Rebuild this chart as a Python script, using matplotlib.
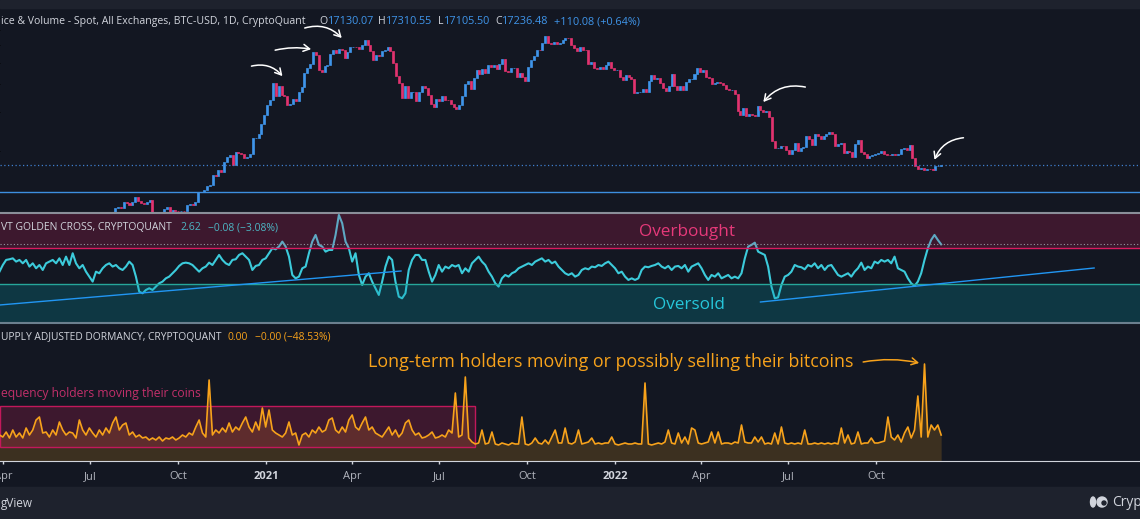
import numpy as np
import pandas as pd
import matplotlib
matplotlib.use("Agg")
import matplotlib.pyplot as plt
import matplotlib.dates as mdates
from matplotlib.patches import Rectangle, Ellipse
from matplotlib.lines import Line2D

# BTC-USD close, one value every 3 days from 2020-07-21 to 2022-12-08
price_start = "2020-07-21"
btc_close = [
    9390, 9540, 11000, 11100, 11050, 11750, 11650, 11400, 11780, 12300,
    11860, 11650, 11480, 11710, 11920, 10500, 10370, 10340, 10330, 10950,
    11090, 10530, 10740, 10710, 10620, 10680, 10670, 11380, 11430, 11330,
    11750, 12980, 13030, 13280, 13800, 14000, 15600, 15300, 16300, 15980,
    17800, 18680, 19160, 17150, 19700, 19450, 19370, 18550, 18810, 19270,
    22800, 22800, 23740, 26280, 28900,
    32200, 34000, 40600, 35500, 39200, 35800, 35500, 32100, 32500, 34300,
    33500, 36900, 38900, 44800, 47100, 49100, 55900, 54100, 46300, 45200,
    48400, 48900, 54900, 57200, 55600, 57600, 57300, 52800, 55800, 58800,
    59000, 58900, 58000, 60200, 63100, 60400, 56500, 51700, 54000, 53800,
    56600, 57000, 58800, 56700, 49700, 43500, 40600, 34700, 39300, 34600,
    36700, 36900, 33600, 36700, 39100, 38300, 35600, 32500, 31600, 34400,
    33500, 35300, 33900, 33800, 32700, 31500, 30800, 32100, 35400, 39900,
    41500, 38200, 42800, 46300, 44400, 47000, 44900, 48900, 47700, 49000,
    46900, 49300, 51800, 46100, 45200, 47100, 47300, 43000, 44900, 43200,
    41500, 47700, 51500, 53900, 57400, 57300, 61500, 65900, 61300, 60900,
    62200, 61000, 61400, 63300, 64900, 64400, 60100, 58100, 56300, 58900,
    57300, 57200, 49400, 50600, 47100, 46700, 47600, 46700, 48600, 50400,
    47500, 46300,
    46400, 43100, 41800, 43900, 43100, 42200, 36300, 36700, 37000, 37900,
    36900, 41500, 44100, 42400, 42600, 40500, 38300, 37300, 39100, 44400,
    39100, 37700, 39400, 37800, 41100, 42200, 42400, 44300, 47100, 45500,
    46400, 43200, 42800, 40100, 40500, 40800, 40500, 39500, 38100, 37700,
    37700, 36000, 30100, 28900, 31300, 28700, 29400, 29100, 28600, 31800,
    30500, 29900, 30200, 28400, 22100, 20500, 20600, 21100, 21000, 20100,
    19300, 20200, 21600, 19900, 20600, 20800, 23200, 22600, 21200, 23800,
    23300, 22600, 23200, 23900, 24400, 23900, 20900, 21500, 21600, 19600,
    20000, 19800, 18800, 21400, 22400, 19700, 19400, 18500, 18900, 19100,
    19400, 19600, 20000, 19400, 19200, 19100, 19300, 19200, 19300, 20300,
    20600, 20200, 21300, 18500, 17000, 16600, 16700, 16300, 16600, 16500,
    16400, 17000, 17100, 17200,
]
last_price = 17236.48
support_price = 13000

# NVT golden cross and supply adjusted dormancy, evenly spaced 2020-03-28 .. 2022-12-08
ind_start, ind_end = "2020-03-28", "2022-12-08"
nvt = [
    -0.29, 0.42, 0.96, 1.03, 1.13, 0.78, 0.96, 0.60, 0.96, 0.25,
    0.60, 0.07, 0.42, -0.11, 0.60, 0.78, 0.96, 0.60, 1.13, 0.42,
    1.31, 0.42, 1.67, 0.60, 0.07, 0.42, -0.29, -0.82, -1.35, -0.29,
    -0.46, 0.07, 0.42, 0.60, 0.25, 0.42, 0.07, -0.11, 0.25, 0.78,
    0.42, -0.82, -2.42, -2.59, -2.24, -2.06, -2.24, -1.88, -1.53, -1.35,
    -1.00, -0.82, -0.46, -0.11, 0.32, 0.60, 0.67, 0.60, 0.42, 0.07,
    -0.29, 0.07, 0.25, 0.67, 0.42, 0.96, 1.49, 0.96, 0.60, 0.42,
    0.96, 1.03, 1.49, 1.67, 1.31, 0.96, -0.11, 0.32, 0.42, 0.96,
    1.13, 1.67, 2.20, 2.09, 2.38, 2.91, 2.38, 1.31, -0.64, -1.00,
    -0.82, 0.07, 0.25, 1.67, 2.91, 3.62, 2.56, 2.38, 1.84, 2.02,
    2.02, 3.62, 5.75, 4.86, 2.91, 2.20, 0.78, 1.67, -0.64, -1.71,
    -0.82, -0.46, -1.35, -2.06,
    -2.77, -1.35, 0.25, 1.31, 0.96, -1.35, -2.95, -3.13, -2.59, -0.11,
    0.96, 1.49, 1.49, 0.96, 0.96, -0.29, -1.35, -0.64, 0.42, -0.29,
    0.25, 0.07, 0.42, 0.25, 0.42, -0.46, 0.07, -0.29, 0.60, 0.96,
    1.31, 0.78, 0.42, -0.29, -0.82, -1.53, -1.88, -1.00, -0.64, -0.82,
    -0.46, -0.29, 0.07, 0.25, 0.42, 0.60, 0.42, 0.78, 0.96, 1.13,
    0.78, 0.96, 0.60, 0.78, 0.25, -0.11, -0.46, -0.64, -0.46, -0.82,
    -0.64, -0.11, 0.07, -0.04, 0.25, 0.18, 0.42, 0.32, 0.60, 0.78,
    0.42, 0.07, -0.46, -0.29, -0.82, -1.17, -1.00, -1.17, -1.00, -0.11,
    0.25, 0.18, 0.32, 0.42, 0.60, 0.25, 0.07, 0.32, -0.11, 0.25,
    0.32, 0.07, 0.42, -0.29, 0.25, 0.42, 0.60, 0.07, -0.64, -1.17,
    -0.64, -0.82, -0.46, -1.00, -0.82, -0.64, -1.00, -0.82, -1.00, -0.46,
    1.13, 2.38, 2.56, 2.80,
    1.84, 1.67, 1.49, 0.25, -1.88, -3.13, -3.02, -1.71, -0.82, -0.64,
    -0.29, 0.42, 0.25, 0.18, -0.04, 0.42, 0.25, 0.60, 0.07, 0.42,
    -0.11, 0.32, 0.42, -0.11, -0.64, -0.82, -0.64, -0.46, -0.82, -0.29,
    0.07, 0.67, -0.11, 0.25, 0.07, 0.78, 0.60, 0.96, 0.78, 0.96,
    0.60, 1.31, 0.07, -0.11, -0.29, -1.00, -1.53, -1.81, -1.35, -0.46,
    0.96, 2.20, 3.09, 3.62, 3.09, 2.62,
]
overbought, oversold = 2.2, -1.6

dormancy = [
    2.6, 2.4, 2.9, 2.3, 3.1, 2.4, 2.8, 2.3, 3.3, 2.6,
    3.1, 4.1, 4.4, 2.8, 2.9, 2.4, 3.1, 2.6, 3.9, 3.1,
    2.6, 2.9, 2.8, 2.3, 4.1, 3.1, 2.6, 3.3, 2.8, 2.4,
    3.1, 2.6, 3.3, 2.8, 3.8, 4.4, 3.1, 3.6, 3.8, 2.6,
    2.9, 2.4, 2.6, 2.3, 2.4, 2.1, 2.3, 2.1, 2.4, 2.0,
    2.3, 2.2, 2.4, 2.1, 2.3, 2.6, 2.4, 2.8, 2.6, 3.4,
    4.1, 2.8, 2.4, 8.1, 2.6, 3.1, 2.8, 3.3, 2.9, 3.8,
    2.9, 3.4, 3.1, 3.8, 4.4, 3.4, 2.9, 3.9, 3.1, 5.3,
    3.4, 5.1, 3.1, 2.8, 2.6, 2.4, 2.8, 3.9, 2.6, 2.8,
    1.6, 2.6, 2.8, 2.4, 3.1, 2.8, 3.4, 2.9, 3.1, 4.1,
    4.3, 3.1, 2.8, 3.4, 2.9, 4.1, 4.6, 3.4, 3.1, 3.8,
    4.4, 3.1, 3.4, 2.8,
    2.6, 2.4, 2.9, 3.4, 2.6, 3.1, 2.4, 2.8, 3.8, 4.1,
    3.1, 2.6, 2.8, 2.3, 2.4, 2.6, 2.9, 2.3, 2.4, 2.6,
    2.4, 3.1, 2.8, 6.8, 2.4, 2.6, 8.4, 2.3, 1.9, 1.7,
    1.8, 3.1, 1.7, 1.8, 2.9, 1.7, 1.6, 1.8, 1.7, 1.6,
    1.8, 1.7, 1.7, 4.4, 1.7, 1.6, 1.8, 2.3, 1.8, 1.7,
    2.1, 1.7, 2.4, 3.1, 1.8, 1.8, 3.3, 1.8, 1.7, 1.9,
    3.1, 1.7, 1.8, 1.9, 2.3, 1.7, 1.8, 1.7, 1.8, 1.8,
    2.4, 1.7, 1.6, 1.7, 1.8, 1.7, 1.7, 1.8, 1.7, 1.7,
    7.8, 1.7, 1.6, 1.7, 1.8, 1.7, 1.9, 3.1, 1.8, 1.7,
    2.8, 1.8, 2.4, 1.7, 3.3, 3.1, 1.8, 1.7, 1.8, 1.9,
    2.9, 1.8, 2.9, 1.7, 1.8, 1.8, 1.7, 1.9, 1.8, 3.6,
    1.9, 1.8, 1.8, 2.4,
    1.9, 2.4, 1.7, 1.8, 1.7, 2.8, 1.7, 3.4, 1.8, 1.7,
    1.8, 1.7, 1.8, 1.7, 3.1, 1.7, 1.7, 1.8, 1.7, 1.8,
    1.7, 1.8, 1.7, 1.8, 1.7, 3.3, 1.8, 2.6, 1.7, 1.8,
    2.9, 1.7, 1.8, 1.8, 2.3, 1.8, 1.8, 1.9, 2.0, 4.4,
    2.4, 2.1, 2.6, 1.9, 2.8, 3.4, 2.3, 3.1, 6.5, 2.4,
    9.7, 2.4, 3.6, 3.1, 3.6, 2.6,
]
box_end, box_low, box_high = "2021-08-07", 1.4, 5.5

# trend lines drawn on the NVT pane: (date, value) pairs
trend_lines = [
    (("2020-03-28", -3.84), ("2021-05-22", -0.22)),
    (("2022-06-02", -3.52), ("2023-05-17", 0.10)),
]
# hand drawn arrows on the price pane: tip (date, price), tail offset px, curvature
price_arrows = [
    ("2021-01-18", 43500, -31, 10, -0.3),
    ("2021-02-17", 57600, -36, -1, -0.1),
    ("2021-03-21", 64700, -37, 10, -0.3),
    ("2022-06-05", 33200, 42, 15, 0.3),
    ("2022-12-01", 18200, 29, 22, 0.3),
]

# legend values of the last candle
ohlc_labels = ["O", "H", "L", "C"]
ohlc_values = ["17130.07", "17310.55", "17105.50", "17236.48"]
ohlc_change = "+110.08 (+0.64%)"

tick_dates = ["2020-04-01", "2020-07-01", "2020-10-01", "2021-01-01", "2021-04-01",
              "2021-07-01", "2021-10-01", "2022-01-01", "2022-04-01", "2022-07-01",
              "2022-10-01"]
tick_labels = ["Apr", "Jul", "Oct", "2021", "Apr", "Jul", "Oct", "2022", "Apr", "Jul", "Oct"]

W, H = 1140, 519
BG = "#131722"
BAR = "#1e222d"
UP, DOWN = "#3f95ea", "#e2336f"
PINK = "#e91e63"
CYAN = "#3ccbdb"
ORANGE = "#f7a21b"
TXT = "#d1d4dc"
x_left, x_right = pd.Timestamp("2020-03-28 13:00"), pd.Timestamp("2023-07-04")

plt.rcParams["font.family"] = ["Open Sans", "DejaVu Sans"]
fig = plt.figure(figsize=(W / 100, H / 100), dpi=100, facecolor=BG)


def panel(top, bottom):
    ax = fig.add_axes([0, 1 - bottom / H, 1, (bottom - top) / H])
    ax.set_facecolor(BG)
    for s in ax.spines.values():
        s.set_visible(False)
    ax.tick_params(left=False, labelleft=False, bottom=False, labelbottom=False)
    return ax


def ftext(x, y, s, **kw):
    fig.text(x / W, 1 - y / H, s, va="center", **kw)


def hline_px(y, color, lw):
    fig.add_artist(Line2D([0, 1], [1 - y / H, 1 - y / H], color=color, lw=lw))


# ---- price pane
ax_p = panel(8, 212)
ax_p.set_yscale("log")
close = np.array(btc_close, dtype=float)
opn = np.r_[close[0], close[:-1]]
pdates = pd.date_range(price_start, periods=len(close), freq="3D")
up = close >= opn
ax_p.bar(pdates[up], close[up] - opn[up], bottom=opn[up], width=2.1, color=UP, lw=0.5, edgecolor=UP)
ax_p.bar(pdates[~up], opn[~up] - close[~up], bottom=close[~up], width=2.1, color=DOWN, lw=0.5, edgecolor=DOWN)
ax_p.axhline(last_price, color="#3f7fd0", lw=0.9, ls=(0, (1, 2)))
ax_p.axhline(support_price, color="#3d8fe0", lw=1)
ax_p.set_ylim(10560, 88450)
ax_p.set_xlim(x_left, x_right)
for d, pr, dx, dy, rad in price_arrows:
    ax_p.annotate("", xy=(pd.Timestamp(d), pr), xytext=(dx, dy), textcoords="offset pixels",
                  arrowprops=dict(arrowstyle="->,head_length=0.45,head_width=0.25", color="white",
                                  lw=1.1, shrinkA=0, shrinkB=0,
                                  connectionstyle=f"arc3,rad={rad}"))

# ---- NVT pane
ax_n = panel(214, 322)
ndates = pd.date_range(ind_start, ind_end, periods=len(nvt))
ax_n.plot(ndates, nvt, color=CYAN, lw=1.5, zorder=2)
ax_n.axhspan(overbought, 10, color=PINK, alpha=0.2, lw=0, zorder=3)
ax_n.axhspan(-10, oversold, color="#0097a7", alpha=0.25, lw=0, zorder=3)
ax_n.axhline(overbought, color="#d81b60", lw=1, zorder=4)
ax_n.axhline(oversold, color="#26a69a", lw=1, zorder=4)
ax_n.axhline(nvt[-1], color="#9598a1", lw=0.8, ls=(0, (1, 2)), zorder=4)
for (d0, v0), (d1, v1) in trend_lines:
    ax_n.plot([pd.Timestamp(d0), pd.Timestamp(d1)], [v0, v1], color="#2196f3", lw=1, zorder=5)
ax_n.set_ylim(-5.65, 5.85)
ax_n.set_xlim(x_left, x_right)

# ---- dormancy pane
ax_d = panel(324, 461)
ddates = pd.date_range(ind_start, ind_end, periods=len(dormancy))
ax_d.fill_between(ddates, dormancy, 0, color=ORANGE, alpha=0.18, lw=0)
ax_d.plot(ddates, dormancy, color=ORANGE, lw=1.2)
x0 = mdates.date2num(x_left)
x1 = mdates.date2num(pd.Timestamp(box_end))
ax_d.add_patch(Rectangle((x0, box_low), x1 - x0, box_high - box_low, facecolor=PINK, alpha=0.2, lw=0))
ax_d.add_patch(Rectangle((x0, box_low), x1 - x0, box_high - box_low, fill=False, edgecolor="#c2185b", lw=1))
ax_d.annotate("", xy=(pd.Timestamp("2022-11-15"), 9.8), xytext=(-56, 1), textcoords="offset pixels",
              arrowprops=dict(arrowstyle="->,head_length=0.45,head_width=0.25", color=ORANGE, lw=1.1,
                              shrinkA=0, shrinkB=0, connectionstyle="arc3,rad=-0.1"))
ax_d.set_ylim(0, 13.7)
ax_d.set_xlim(x_left, x_right)
ax_d.spines["bottom"].set_visible(True)
ax_d.spines["bottom"].set_color(TXT)
ax_d.set_xticks(pd.to_datetime(tick_dates))
ax_d.set_xticklabels(tick_labels)
ax_d.tick_params(bottom=True, labelbottom=True, direction="out", length=2, width=1,
                 color=TXT, labelcolor="#b2b5be", labelsize=8, pad=5)
for lab in ax_d.get_xticklabels():
    if lab.get_text().startswith("20"):
        lab.set_fontweight("bold")
        lab.set_color(TXT)

# ---- frame strips and separators
fig.add_artist(Rectangle((0, 1 - 8 / H), 1, 8 / H, color=BAR, transform=fig.transFigure))
fig.add_artist(Rectangle((0, 0), 1, 32 / H, color=BAR, transform=fig.transFigure))
hline_px(213, "#8a8e99", 1.5)
hline_px(323, "#6b7f8e", 1.5)

# ---- texts
ftext(1, 22, "ice & Volume - Spot, All Exchanges, BTC-USD, 1D, CryptoQuant", color=TXT, fontsize=7.55)
for xs, lab, val in zip([328, 386, 444, 502], ohlc_labels, ohlc_values):
    ftext(xs - 0.5, 22, lab, color=TXT, fontsize=7.6, ha="right")
    ftext(xs, 22, val, color=UP, fontsize=7.8)
ftext(554, 22, ohlc_change, color=UP, fontsize=7.8)
ftext(1, 228, "VT GOLDEN CROSS, CRYPTOQUANT", color=TXT, fontsize=7.45)
ftext(180, 228, "2.62", color="#4db6c4", fontsize=7.45)
ftext(208, 228, "\u22120.08 (\u22123.08%)", color="#4db6c4", fontsize=7.45)
ftext(1, 337, "UPPLY ADJUSTED DORMANCY, CRYPTOQUANT", color=TXT, fontsize=7.4)
ftext(228, 337, "0.00", color=ORANGE, fontsize=7.4)
ftext(255, 337, "\u22120.00 (\u221248.53%)", color=ORANGE, fontsize=7.4)
ftext(687, 232, "Overbought", color="#e6397a", fontsize=12.3, ha="center")
ftext(689, 305, "Oversold", color="#26c6da", fontsize=12.3, ha="center")
ftext(1, 394, "equency holders moving their coins", color="#c2306a", fontsize=8.7)
ftext(368, 362, "Long-term holders moving or possibly selling their bitcoins", color=ORANGE, fontsize=12.9)
ftext(1, 503, "gView", color=TXT, fontsize=8.5)
ftext(1112, 502, "Cryp", color=TXT, fontsize=10)
fig.add_artist(Ellipse((1093 / W, 1 - 502 / H), 5 / W, 10 / H, color=TXT, transform=fig.transFigure))
fig.add_artist(Ellipse((1102 / W, 1 - 502 / H), 10 / W, 10 / H, color=TXT, transform=fig.transFigure))
fig.add_artist(Ellipse((1104 / W, 1 - 503 / H), 4 / W, 4 / H, color=BAR, transform=fig.transFigure))

fig.savefig("out.png", dpi=100, facecolor=BG)
